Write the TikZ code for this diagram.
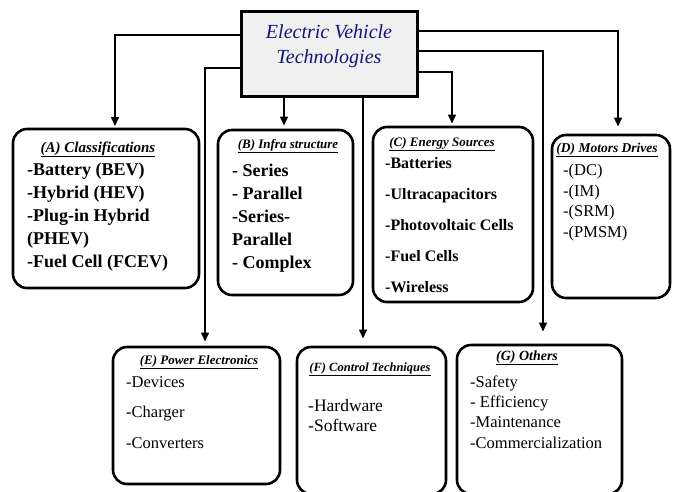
\documentclass[tikz,border=0pt]{standalone}
\usepackage{fontspec}
\setmainfont{Liberation Serif}
\usetikzlibrary{arrows.meta, positioning}
\definecolor{evnavy}{RGB}{20,20,125}

\begin{document}
\begin{tikzpicture}[
    x=1pt, y=-1pt,
    topic/.style={rectangle, draw=black, line width=3pt, fill=gray!12, inner sep=0pt},
    group/.style={rectangle, draw=black, line width=2.6pt, rounded corners=14pt, inner sep=0pt},
    heading/.style={anchor=base, inner sep=0pt, font=\fontsize{13}{15}\selectfont\bfseries\itshape},
    items/.style={anchor=base west, inner sep=0pt, align=left},
    arrow/.style={-{Triangle[length=9pt, width=7.5pt]}, line width=2.4pt}
]
\useasboundingbox (0,0) rectangle (676,491);

% Main topic
\node[topic, minimum width=176pt, minimum height=85pt] (ev) at (329,53.5) {};
\node[align=center, text=evnavy, font=\fontsize{20}{25}\selectfont\itshape] (evlabel) at (329,46) {Electric Vehicle\\Technologies};

% Upper row
\node[group, minimum width=186pt, minimum height=159pt] (clsA) at (106,208.5) {};
\node[group, minimum width=135pt, minimum height=165pt] (infraB) at (285.5,212.5) {};
\node[group, minimum width=160pt, minimum height=175pt] (energyC) at (453,214.5) {};
\node[group, minimum width=118pt, minimum height=163pt] (motorD) at (611,216.5) {};

% Lower row
\node[group, minimum width=167pt, minimum height=137pt] (powerE) at (196.5,415.5) {};
\node[group, minimum width=149pt, minimum height=147pt] (controlF) at (371.5,420.5) {};
\node[group, minimum width=165pt, minimum height=149pt] (otherG) at (539.5,419.5) {};

% Headings
\node[heading, font=\fontsize{15}{17}\selectfont\bfseries\itshape] (clsAhead) at (98,152) {\underline{(A) Classifications}};
\node[heading] (infraBhead) at (288,148) {\underline{(B) Infra structure}};
\node[heading] (energyChead) at (442,146) {\underline{(C) Energy Sources}};
\node[heading, font=\fontsize{13.5}{15}\selectfont\bfseries\itshape] (motorDhead) at (607,152) {\underline{(D) Motors Drives}};
\node[heading] (powerEhead) at (199,364) {\underline{(E) Power Electronics}};
\node[heading, font=\fontsize{12.5}{15}\selectfont\bfseries\itshape] (controlFhead) at (370,371) {\underline{(F) Control Techniques}};
\node[heading, font=\fontsize{14}{16}\selectfont\bfseries\itshape] (otherGhead) at (527,360) {\underline{(G) Others}};

% Items (anchored at the baseline of the last line)
\node[items, font=\fontsize{18}{23}\selectfont\bfseries] (clsAlist) at (27,267)
    {-Battery (BEV)\\-Hybrid (HEV)\\-Plug-in Hybrid\\(PHEV)\\-Fuel Cell (FCEV)};
\node[items, font=\fontsize{18}{22.8}\selectfont\bfseries] (infraBlist) at (232,268)
    {- Series\\- Parallel\\-Series-\\Parallel\\- Complex};
\node[items, font=\fontsize{16}{30.8}\selectfont\bfseries] (energyClist) at (385,292)
    {-Batteries\\-Ultracapacitors\\-Photovoltaic Cells\\-Fuel Cells\\-Wireless};
\node[items, font=\fontsize{16.5}{20.4}\selectfont] (motorDlist) at (563,237)
    {-(DC)\\-(IM)\\-(SRM)\\-(PMSM)};
\node[items, font=\fontsize{16.5}{30.5}\selectfont] (powerElist) at (126,448)
    {-Devices\\-Charger\\-Converters};
\node[items, font=\fontsize{17.5}{20}\selectfont] (controlFlist) at (308,431)
    {-Hardware\\-Software};
\node[items, font=\fontsize{16.5}{20.3}\selectfont] (otherGlist) at (470,448)
    {-Safety\\- Efficiency\\-Maintenance\\-Commercialization};

% Connectors
\draw[arrow, shorten >=1.5pt] (ev.west |- 0,35) -| ([xshift=9pt]clsA.north);
\draw[arrow, shorten >=4pt] (ev.west |- 0,68) -| ([xshift=8.5pt]powerE.north);
\draw[arrow, shorten >=3pt] ([xshift=-1.5pt]ev.south -| infraB.north) -- ([xshift=-1.5pt]infraB.north);
\draw[arrow, shorten >=7pt] ([xshift=-8.5pt]ev.south -| controlF.north) -- ([xshift=-8.5pt]controlF.north);
\draw[arrow, shorten >=2pt] (ev.east |- 0,72) -| ([xshift=-1pt]energyC.north);
\draw[arrow, shorten >=12pt] (ev.east |- 0,51) -| ([xshift=3.5pt]otherG.north);
\draw[arrow, shorten >=7pt] (ev.east |- 0,31) -| ([xshift=7pt]motorD.north);

\end{tikzpicture}
\end{document}
